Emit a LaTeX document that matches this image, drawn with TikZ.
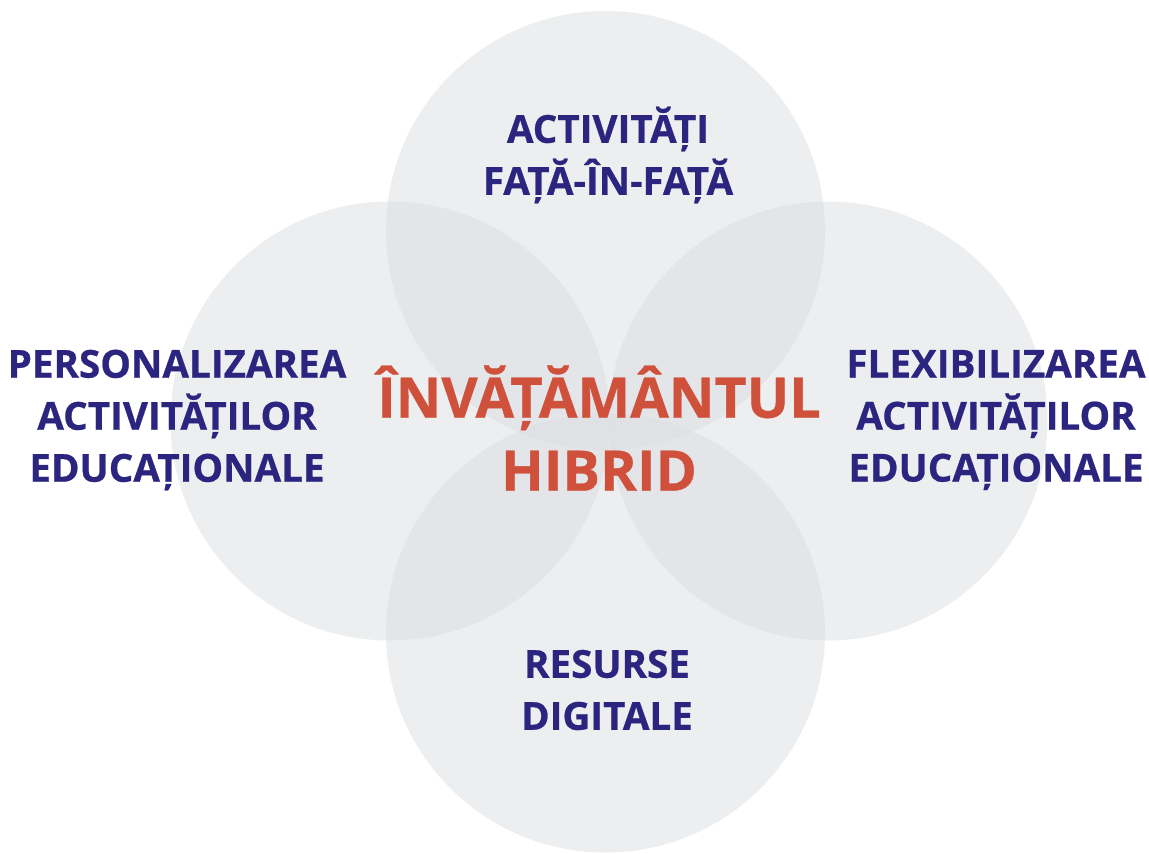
\documentclass[tikz,border=0pt]{standalone}
\usepackage{fontspec}
\setmainfont{Open Sans}[Kerning=Off,BoldFeatures={FakeBold=0.6}]
\definecolor{navy}{HTML}{2B2580}
\definecolor{brick}{HTML}{D0513B}
\definecolor{disc}{HTML}{DCDEE2}
\begin{document}
\begin{tikzpicture}[x=1pt,y=-1pt,
  circ/.style={fill=disc,fill opacity=0.5,draw=none},
  lbl/.style={font=\bfseries\fontsize{38.6}{52}\selectfont,text=navy,align=center,inner sep=0pt},
  hub/.style={font=\bfseries\fontsize{56}{73}\selectfont,text=brick,align=center,inner sep=0pt}]
\useasboundingbox (0,0) rectangle (1149,854);
\fill[white] (0,0) rectangle (1149,854);
\fill[circ] (605.5,230.5) circle (219.5);
\fill[circ] (390,421) circle (219.5);
\fill[circ] (828,421) circle (219.5);
\fill[circ] (605.5,633) circle (219.5);
\node[lbl] (top) at (608,155) {ACTIVITĂȚI\\FAȚĂ-ÎN-FAȚĂ};
\node[lbl] (left) at (177,420) {PERSONALIZAREA\\ACTIVITĂȚILOR\\EDUCAȚIONALE};
\node[lbl] (right) at (996,420) {FLEXIBILIZAREA\\ACTIVITĂȚILOR\\EDUCAȚIONALE};
\node[lbl] (bottom) at (607,690) {RESURSE\\DIGITALE};
\node[hub] (center) at (599,428) {ÎNVĂȚĂMÂNTUL\\HIBRID};
\end{tikzpicture}
\end{document}
